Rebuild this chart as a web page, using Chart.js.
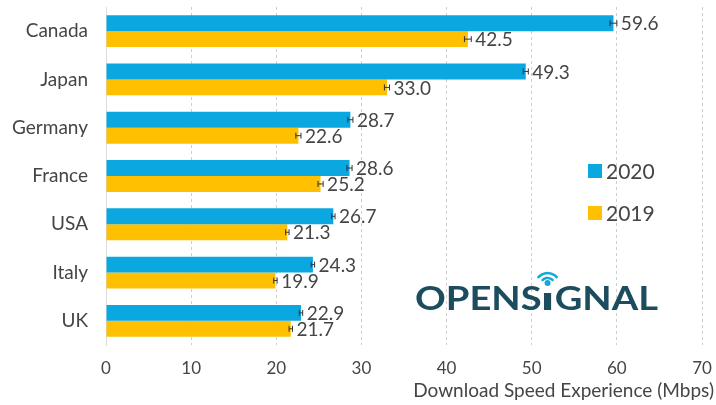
<!DOCTYPE html>
<html>
<head>
<meta charset="utf-8">
<script src="https://cdn.jsdelivr.net/npm/chart.js@4"></script>
<style>
  html, body { margin: 0; padding: 0; background: #fff; }
  #wrap { width: 716px; height: 405px; position: relative; }
</style>
</head>
<body>
<div id="wrap"><canvas id="chart"></canvas></div>
<script>
// data
const countries = ['Canada', 'Japan', 'Germany', 'France', 'USA', 'Italy', 'UK'];
const speed2020 = [59.6, 49.3, 28.7, 28.6, 26.7, 24.3, 22.9];
const speed2019 = [42.5, 33.0, 22.6, 25.2, 21.3, 19.9, 21.7];
const err2020   = [0.4, 0.3, 0.3, 0.3, 0.2, 0.2, 0.2];
const err2019   = [0.4, 0.3, 0.3, 0.3, 0.2, 0.2, 0.2];
const xTicks    = [0, 10, 20, 30, 40, 50, 60, 70];

const BLUE = '#0aa7e0';
const YELLOW = '#fec000';
const TEXT = '#454545';
const FONT = 'Lato, "Open Sans", sans-serif';

// error bars + value labels
const barExtras = {
  id: 'barExtras',
  afterDatasetsDraw(chart) {
    const { ctx } = chart;
    const xs = chart.scales.x;
    chart.data.datasets.forEach((ds, di) => {
      const meta = chart.getDatasetMeta(di);
      meta.data.forEach((bar, i) => {
        const v = ds.data[i], e = ds.errors[i];
        const y = bar.y;
        const x0 = xs.getPixelForValue(v - e), x1 = xs.getPixelForValue(v + e);
        ctx.save();
        ctx.strokeStyle = '#333';
        ctx.lineWidth = 1;
        ctx.beginPath();
        ctx.moveTo(x0, y); ctx.lineTo(x1, y);
        ctx.moveTo(x0, y - 3); ctx.lineTo(x0, y + 3);
        ctx.moveTo(x1, y - 3); ctx.lineTo(x1, y + 3);
        ctx.stroke();
        ctx.fillStyle = TEXT;
        ctx.font = '19px ' + FONT;
        ctx.textBaseline = 'middle';
        ctx.textAlign = 'left';
        ctx.fillText(v.toFixed(1), x1 + 4, y + 1);
        ctx.restore();
      });
    });
  }
};

// legend, axis title, logo
const overlay = {
  id: 'overlay',
  afterDraw(chart) {
    const { ctx } = chart;
    ctx.save();
    // legend
    const items = [[chart.data.datasets[0], 171], [chart.data.datasets[1], 213]];
    items.forEach(([ds, y]) => {
      ctx.fillStyle = ds.backgroundColor;
      ctx.fillRect(588, y - 7, 14, 14);
      ctx.fillStyle = TEXT;
      ctx.font = '21px ' + FONT;
      ctx.textBaseline = 'middle';
      ctx.textAlign = 'left';
      ctx.fillText(ds.label, 606, y + 1);
    });
    // axis title
    ctx.font = '19px ' + FONT;
    ctx.textAlign = 'right';
    ctx.fillText('Download Speed Experience (Mbps)', 714, 391);
    // logo, stretched to the reference width
    ctx.font = 'bold 32px ' + FONT;
    ctx.textAlign = 'left';
    ctx.textBaseline = 'alphabetic';
    const wA = ctx.measureText('OPENS').width, wB = ctx.measureText('GNAL').width;
    const natural = wA + 11 + wB;
    const sx = 243 / natural;
    ctx.translate(415, 310);
    ctx.scale(sx, 1);
    ctx.fillStyle = '#1c4d5e';
    ctx.fillText('OPENS', 0, 0);
    ctx.fillRect(wA + 2, -17, 6, 17);
    const ix = wA + 5;
    ctx.fillText('GNAL', wA + 11, 0);
    ctx.setTransform(1, 0, 0, 1, 0, 0);
    const cx = 415 + ix * sx;
    ctx.fillStyle = '#13a7dc';
    ctx.beginPath();
    ctx.arc(cx, 283, 3, 0, Math.PI * 2);
    ctx.fill();
    ctx.strokeStyle = '#13a7dc';
    ctx.lineWidth = 2.5;
    [7, 12].forEach(r => {
      ctx.beginPath();
      ctx.arc(cx, 285, r, Math.PI * 1.2, Math.PI * 1.8);
      ctx.stroke();
    });
    ctx.restore();
  }
};

new Chart(document.getElementById('chart'), {
  type: 'bar',
  data: {
    labels: countries,
    datasets: [
      { label: '2020', data: speed2020, errors: err2020, backgroundColor: BLUE },
      { label: '2019', data: speed2019, errors: err2019, backgroundColor: YELLOW }
    ]
  },
  options: {
    indexAxis: 'y',
    responsive: true,
    maintainAspectRatio: false,
    animation: false,
    layout: { padding: { top: 7, right: 14, bottom: 0, left: 0 } },
    datasets: { bar: { barPercentage: 1, categoryPercentage: 0.66 } },
    plugins: { legend: { display: false }, tooltip: { enabled: false } },
    scales: {
      x: {
        min: 0, max: 70,
        afterBuildTicks: s => { s.ticks = xTicks.map(v => ({ value: v })); },
        afterFit: s => { s.height = 60; s.paddingLeft = 0; s.paddingRight = 0; },
        grid: { color: '#cfcfcf', drawTicks: false, tickBorderDash: [3, 3] },
        border: { display: false, dash: [3, 3] },
        ticks: { color: TEXT, font: { family: FONT, size: 17 }, padding: 13 }
      },
      y: {
        afterFit: s => { s.width = 106; s.paddingTop = 0; s.paddingBottom = 0; },
        grid: { display: false, drawTicks: false },
        border: { display: true, color: '#dcdcdc' },
        ticks: { color: TEXT, font: { family: FONT, size: 19 }, padding: 18 }
      }
    }
  },
  plugins: [barExtras, overlay]
});
</script>
</body>
</html>
